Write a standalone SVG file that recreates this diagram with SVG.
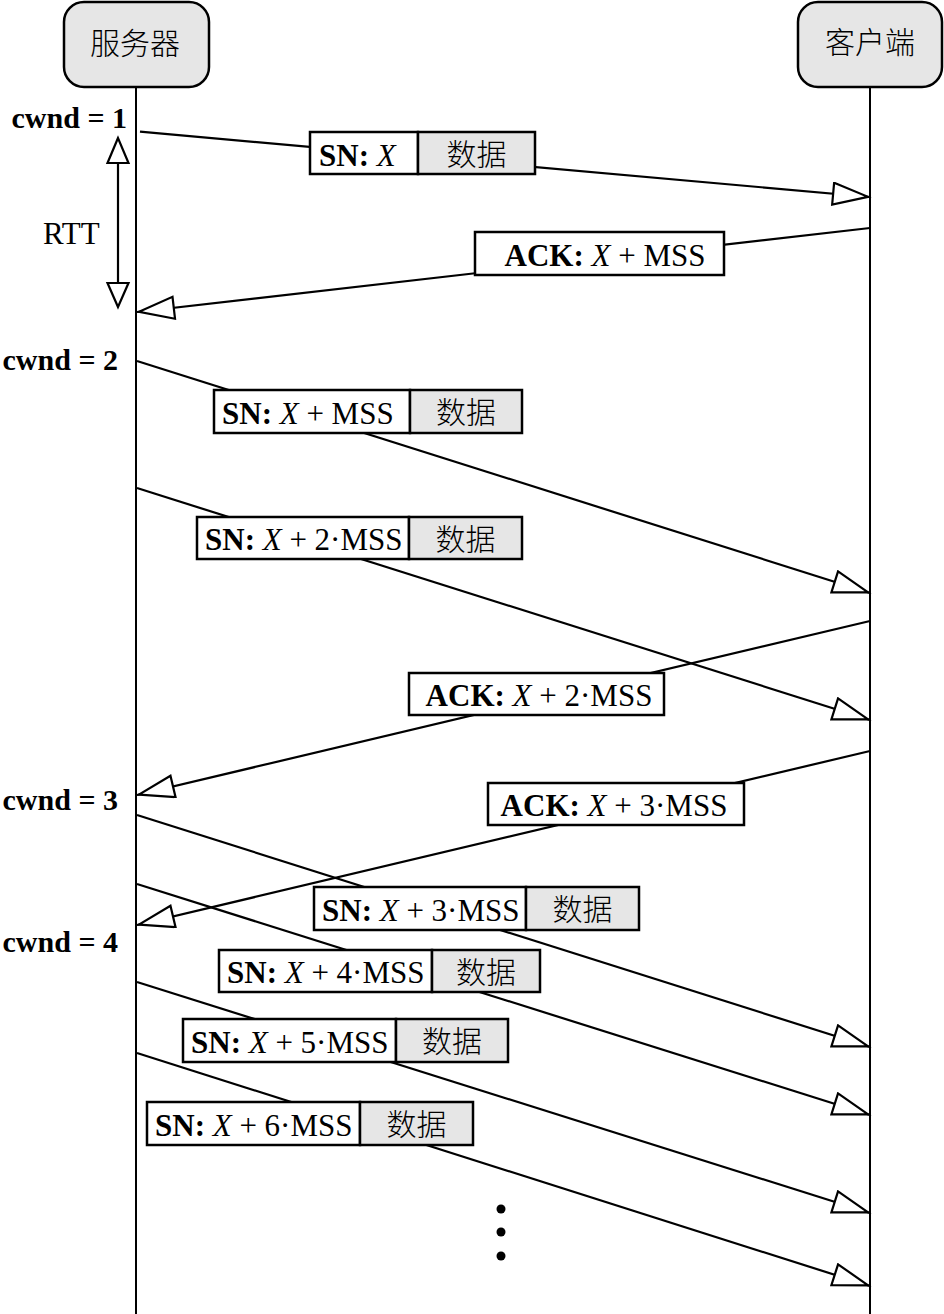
<svg xmlns="http://www.w3.org/2000/svg" width="944" height="1314" viewBox="0 0 944 1314">
<style>
.ln{stroke:#000;stroke-width:2.2;fill:none}
.life{stroke:#000;stroke-width:2}
.wb{fill:#fff;stroke:#000;stroke-width:2.5}
.gb{fill:#e6e6e6;stroke:#000;stroke-width:2.5}
.hd{fill:#e6e6e6;stroke:#000;stroke-width:2.5}
.t{font-family:"Liberation Serif","Noto Sans CJK SC",serif;font-size:31px;fill:#000}
.cw{font-family:"Liberation Serif",serif;font-size:30px;font-weight:bold;fill:#000}
.cj{font-family:"Noto Sans CJK SC","Noto Sans CJK JP",sans-serif;font-size:30px;font-weight:300;fill:#000}
.b{font-weight:bold}
.i{font-style:italic}
</style>
<defs>
<marker id="ah" markerUnits="userSpaceOnUse" markerWidth="42" markerHeight="26" viewBox="0 0 42 26" refX="39" refY="12" orient="auto">
<path d="M2,1 L37,12 L2,23 Z" fill="#fff" stroke="#000" stroke-width="2.2"/>
</marker>
</defs>
<rect width="944" height="1314" fill="#fff"/>

<g id="server">
<line class="life" x1="136" y1="87" x2="136" y2="1314"/>
<rect class="hd" x="64" y="2" width="145" height="85" rx="20"/>
<text class="cj" x="135" y="54" text-anchor="middle">服务器</text>
</g>
<g id="client">
<line class="life" x1="870" y1="87" x2="870" y2="1314"/>
<rect class="hd" x="798" y="2" width="144" height="85" rx="20"/>
<text class="cj" x="870" y="53" text-anchor="middle">客户端</text>
</g>

<g id="cwnd-labels">
<text class="cw" x="127" y="128" text-anchor="end">cwnd = 1</text>
<text class="cw" x="118" y="370" text-anchor="end">cwnd = 2</text>
<text class="cw" x="118" y="810" text-anchor="end">cwnd = 3</text>
<text class="cw" x="118" y="952" text-anchor="end">cwnd = 4</text>
</g>

<g id="rtt">
<line class="ln" x1="118" y1="163" x2="118" y2="283"/>
<polygon points="118,138 107.5,163 128.5,163" fill="#fff" stroke="#000" stroke-width="2.2"/>
<polygon points="118,307 107.5,283 128.5,283" fill="#fff" stroke="#000" stroke-width="2.2"/>
<text class="t" x="43" y="244" font-size="32">RTT</text>
</g>

<g id="connectors">
<path class="ln" d="M140,131.7 L870,197" marker-end="url(#ah)"/>
<path class="ln" d="M870,228 L137,312" marker-end="url(#ah)"/>
<path class="ln" d="M137,361 L870,593" marker-end="url(#ah)"/>
<path class="ln" d="M137,488 L870,720" marker-end="url(#ah)"/>
<path class="ln" d="M870,621 L137,795" marker-end="url(#ah)"/>
<path class="ln" d="M870,751 L137,925" marker-end="url(#ah)"/>
<path class="ln" d="M137,815 L870,1047" marker-end="url(#ah)"/>
<path class="ln" d="M137,884 L870,1115" marker-end="url(#ah)"/>
<path class="ln" d="M137,982 L870,1213" marker-end="url(#ah)"/>
<path class="ln" d="M137,1053 L870,1286" marker-end="url(#ah)"/>
</g>

<g id="pkt1">
<rect class="wb" x="310" y="132" width="108" height="42"/>
<rect class="gb" x="418" y="132" width="117" height="42"/>
<text class="t" x="319" y="165.5"><tspan class="b">SN:</tspan> <tspan class="i">X</tspan></text>
<text class="cj" x="476.5" y="165" text-anchor="middle">数据</text>
</g>
<g id="ack1">
<rect class="wb" x="475" y="232" width="249" height="43"/>
<text class="t" x="605" y="265.5" text-anchor="middle"><tspan class="b">ACK:</tspan> <tspan class="i">X</tspan> + MSS</text>
</g>
<g id="pkt2">
<rect class="wb" x="214" y="390" width="196" height="43"/>
<rect class="gb" x="410" y="390" width="112" height="43"/>
<text class="t" x="222" y="423.5"><tspan class="b">SN:</tspan> <tspan class="i">X</tspan> + MSS</text>
<text class="cj" x="466" y="423" text-anchor="middle">数据</text>
</g>
<g id="pkt3">
<rect class="wb" x="197" y="517" width="212" height="42"/>
<rect class="gb" x="409" y="517" width="113" height="42"/>
<text class="t" x="205" y="550"><tspan class="b">SN:</tspan> <tspan class="i">X</tspan> + 2·MSS</text>
<text class="cj" x="465.5" y="549.5" text-anchor="middle">数据</text>
</g>
<g id="ack2">
<rect class="wb" x="409" y="673" width="255" height="42"/>
<text class="t" x="539" y="706" text-anchor="middle"><tspan class="b">ACK:</tspan> <tspan class="i">X</tspan> + 2·MSS</text>
</g>
<g id="ack3">
<rect class="wb" x="488" y="783" width="256" height="42"/>
<text class="t" x="614" y="816" text-anchor="middle"><tspan class="b">ACK:</tspan> <tspan class="i">X</tspan> + 3·MSS</text>
</g>
<g id="pkt4">
<rect class="wb" x="314" y="887" width="212" height="43"/>
<rect class="gb" x="526" y="887" width="113" height="43"/>
<text class="t" x="322" y="920.5"><tspan class="b">SN:</tspan> <tspan class="i">X</tspan> + 3·MSS</text>
<text class="cj" x="582.5" y="920" text-anchor="middle">数据</text>
</g>
<g id="pkt5">
<rect class="wb" x="219" y="950" width="213" height="42"/>
<rect class="gb" x="432" y="950" width="108" height="42"/>
<text class="t" x="227" y="983"><tspan class="b">SN:</tspan> <tspan class="i">X</tspan> + 4·MSS</text>
<text class="cj" x="486" y="982.5" text-anchor="middle">数据</text>
</g>
<g id="pkt6">
<rect class="wb" x="183" y="1019" width="213" height="43"/>
<rect class="gb" x="396" y="1019" width="112" height="43"/>
<text class="t" x="191" y="1052.5"><tspan class="b">SN:</tspan> <tspan class="i">X</tspan> + 5·MSS</text>
<text class="cj" x="452" y="1052" text-anchor="middle">数据</text>
</g>
<g id="pkt7">
<rect class="wb" x="147" y="1102" width="213" height="43"/>
<rect class="gb" x="360" y="1102" width="113" height="43"/>
<text class="t" x="155" y="1135.5"><tspan class="b">SN:</tspan> <tspan class="i">X</tspan> + 6·MSS</text>
<text class="cj" x="416.5" y="1135" text-anchor="middle">数据</text>
</g>

<g id="ellipsis">
<circle cx="501" cy="1209" r="4.5" fill="#000"/>
<circle cx="501" cy="1232" r="4.5" fill="#000"/>
<circle cx="501" cy="1256" r="4.5" fill="#000"/>
</g>
</svg>
